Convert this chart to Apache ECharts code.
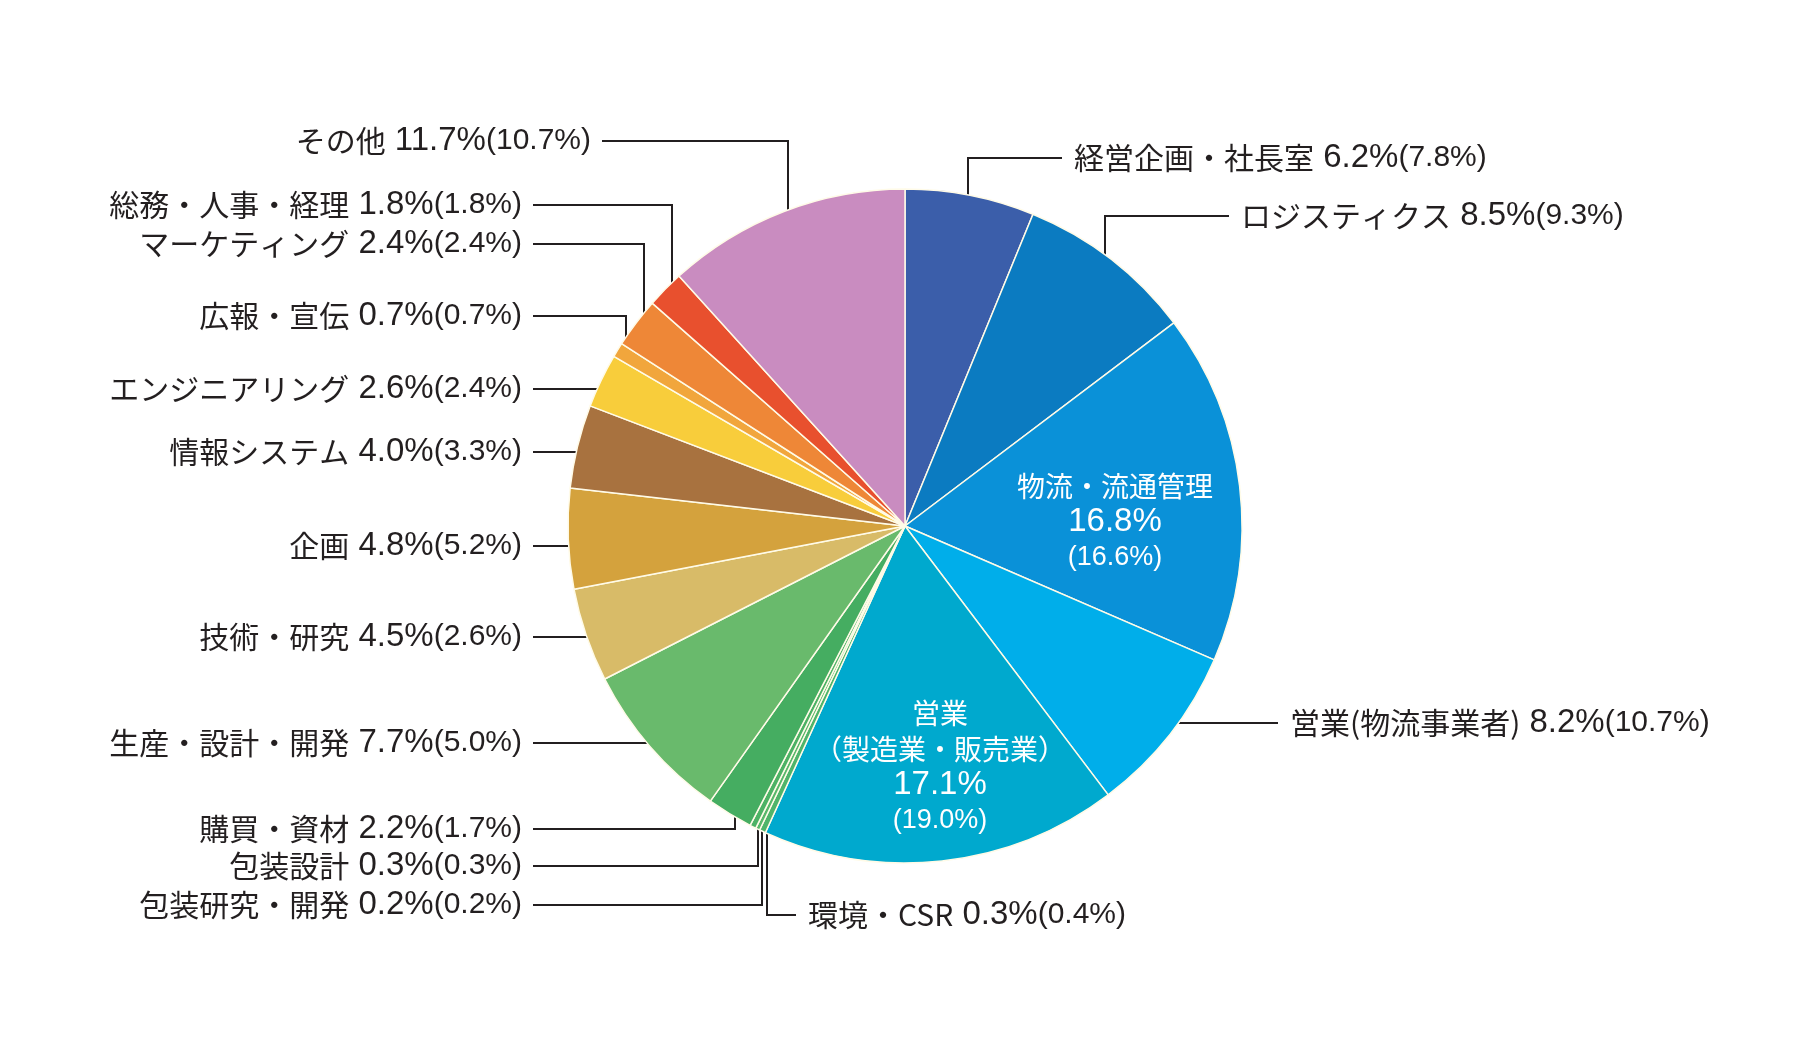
<!DOCTYPE html>
<html>
<head>
<meta charset="utf-8">
<script src="https://cdn.jsdelivr.net/npm/echarts@6/dist/echarts.min.js"></script>
<style>
	html, body { margin: 0; padding: 0; background: #fff; }
	#main { width: 1800px; height: 1040px; }
</style>
</head>
<body>
<div id="main"></div>
<script>
// slices, clockwise from 12 o'clock
var categories = [
	'経営企画・社長室', 'ロジスティクス', '物流・流通管理', '営業(物流事業者)',
	'営業\n（製造業・販売業）', '環境・CSR', '包装研究・開発', '包装設計', '購買・資材',
	'生産・設計・開発', '技術・研究', '企画', '情報システム', 'エンジニアリング',
	'広報・宣伝', 'マーケティング', '総務・人事・経理', 'その他'
];
var shares = [6.2, 8.5, 16.8, 8.2, 17.1, 0.3, 0.2, 0.3, 2.2, 7.7, 4.5, 4.8, 4.0, 2.6, 0.7, 2.4, 1.8, 11.7];
var prevShares = [7.8, 9.3, 16.6, 10.7, 19.0, 0.4, 0.2, 0.3, 1.7, 5.0, 2.6, 5.2, 3.3, 2.4, 0.7, 2.4, 1.8, 10.7];

var sliceColors = [
	'#3b5eaa', '#0b7bc1', '#0a91d8', '#00aeea', '#00a9ce', '#4fb46a', '#58b86b', '#4db265',
	'#45ad61', '#69ba6c', '#d8bb68', '#d4a23d', '#a8723f', '#f8cd3b', '#f1a63c', '#ee8737',
	'#e8502e', '#c98cc0'
];

// label anchor [x, y, side]  L = right aligned on the left, R = left aligned, in = inside slice
var labelPos = [
	[1074, 158, 'R'], [1241, 216, 'R'], [1115, 522, 'in'], [1290, 723, 'R'],
	[940, 767, 'in'], [808, 915, 'R'], [522, 905, 'L'], [522, 866, 'L'], [522, 829, 'L'],
	[522, 743, 'L'], [522, 637, 'L'], [522, 546, 'L'], [522, 452, 'L'], [522, 389, 'L'],
	[522, 316, 'L'], [522, 244, 'L'], [522, 205, 'L'], [591, 141, 'L']
];

var CX = 905, CY = 526, R = 337;
var INK = '#231f20';

var total = shares.reduce(function (a, b) { return a + b; }, 0);
var midAngle = [];
var acc = 0;
for (var i = 0; i < shares.length; i++) {
	midAngle.push((acc + shares[i] / 2) / total * Math.PI * 2);
	acc += shares[i];
}

var pieData = categories.map(function (name, i) {
	var item = { name: name, value: shares[i], itemStyle: { color: sliceColors[i] } };
	if (labelPos[i][2] == 'in') {
		item.label = { position: 'inside' };
		item.labelLine = { show: false };
	}
	return item;
});

function labelText(params) {
	var i = params.dataIndex;
	var v = shares[i].toFixed(1) + '%';
	var p = '(' + prevShares[i].toFixed(1) + '%)';
	if (labelPos[i][2] == 'in') {
		var lines = categories[i].split('\n').map(function (t) { return '{in|' + t + '}'; });
		return lines.join('\n') + '\n{iv|' + v + '}\n{is|' + p + '}';
	}
	return '{n|' + categories[i] + '}{v| ' + v + '}{s|' + p + '}';
}

var myChart = echarts.init(document.getElementById('main'));

var option = {
	backgroundColor: '#fff',
	animation: false,
	series: [
		{
			type: 'pie',
			center: [CX, CY],
			radius: R,
			startAngle: 90,
			clockwise: true,
			avoidLabelOverlap: false,
			data: pieData,
			itemStyle: {
				borderColor: '#fffbe8',
				borderWidth: 1.5
			},
			label: {
				show: true,
				position: 'outside',
				overflow: 'none',
				formatter: labelText,
				rich: {
					n: { fontFamily: 'Noto Sans CJK JP', fontSize: 30, color: INK },
					v: { fontFamily: 'Liberation Sans', fontSize: 33, color: INK },
					s: { fontFamily: 'Liberation Sans', fontSize: 30, color: INK },
					in: { fontFamily: 'Noto Sans CJK JP', fontSize: 28, color: '#fff', lineHeight: 36, align: 'center' },
					iv: { fontFamily: 'Liberation Sans', fontSize: 33, color: '#fff', lineHeight: 36, align: 'center' },
					is: { fontFamily: 'Liberation Sans', fontSize: 27, color: '#fff', lineHeight: 36, align: 'center' }
				}
			},
			labelLine: {
				show: true,
				smooth: false,
				lineStyle: { color: INK, width: 2 }
			},
			labelLayout: function (params) {
				var i = params.dataIndex;
				var p = labelPos[i];
				if (p[2] == 'in') {
					return { x: p[0], y: p[1], align: 'center', verticalAlign: 'middle' };
				}
				var isLeft = p[2] == 'L';
				var ax = Math.round(CX + R * 0.97 * Math.sin(midAngle[i]));
				var ay = Math.round(CY - R * 0.97 * Math.cos(midAngle[i]));
				var endX = isLeft ? p[0] + 11 : p[0] - 12;
				var pts;
				if (Math.abs(ay - p[1]) < 15) {
					// straight line into the slice
					var dy = p[1] - CY;
					var hx = Math.sqrt(Math.pow(R - 10, 2) - dy * dy);
					var sx = Math.round(isLeft ? CX - hx : CX + hx);
					pts = [[sx, p[1]], [Math.round((sx + endX) / 2), p[1]], [endX, p[1]]];
				} else {
					pts = [[ax, ay], [ax, p[1]], [endX, p[1]]];
				}
				return {
					x: p[0],
					y: p[1],
					align: isLeft ? 'right' : 'left',
					verticalAlign: 'middle',
					labelLinePoints: pts
				};
			}
		}
	]
};

if (option && typeof option === "object") {
	myChart.setOption(option, true);
}
</script>
</body>
</html>
